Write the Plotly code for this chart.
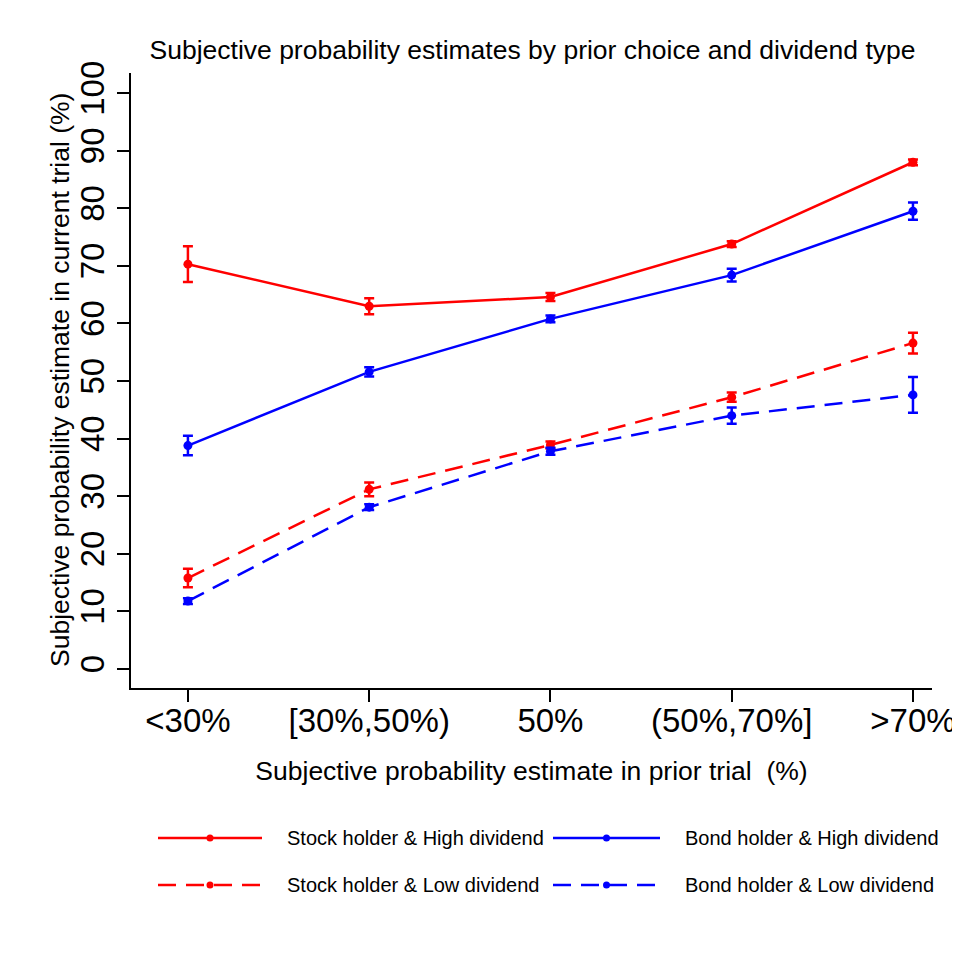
import plotly.graph_objects as go

categories = ["<30%", "[30%,50%)", "50%", "(50%,70%]", ">70%"]

series_names = [
    "Stock holder & High dividend",
    "Bond holder & High dividend",
    "Stock holder & Low dividend",
    "Bond holder & Low dividend",
]
stock_high = [70.3, 63.0, 64.6, 73.8, 88.0]
stock_high_err = [3.1, 1.4, 0.7, 0.5, 0.5]
bond_high = [38.8, 51.6, 60.8, 68.4, 79.5]
bond_high_err = [1.7, 0.8, 0.6, 1.1, 1.5]
stock_low = [15.8, 31.2, 38.9, 47.2, 56.6]
stock_low_err = [1.6, 1.2, 0.6, 0.8, 1.8]
bond_low = [11.8, 28.1, 37.8, 44.0, 47.6]
bond_low_err = [0.5, 0.5, 0.6, 1.4, 3.1]

y_ticks = [0, 10, 20, 30, 40, 50, 60, 70, 80, 90, 100]

x_title = "Subjective probability estimate in prior trial  (%)"
y_title = "Subjective probability estimate in current trial (%)"
main_title = "Subjective probability estimates by prior choice and dividend type"

series_values = [stock_high, bond_high, stock_low, bond_low]
series_errors = [stock_high_err, bond_high_err, stock_low_err, bond_low_err]
series_colors = ["#ff0000", "#0000ff", "#ff0000", "#0000ff"]
series_dash = ["solid", "solid", "18px,10px", "18px,10px"]

FONT = "Liberation Sans, Arial, sans-serif"
FW, FH = 952, 952
OFF = 8  # page body offset

fig = go.Figure()
for name, vals, errs, col, dash in zip(series_names, series_values, series_errors, series_colors, series_dash):
    fig.add_trace(go.Scatter(
        x=categories, y=vals, name=name, mode="lines+markers",
        line=dict(color=col, width=2.5, dash=dash),
        marker=dict(color=col, size=9, symbol="circle"),
        error_y=dict(type="data", array=errs, visible=True, color=col, thickness=2.5, width=5),
        showlegend=False,
    ))

# custom legend (long key lines like the reference)
W, H = 801.0, 615.0
def px_x(p):
    return (p - 131) / W
def px_y(p):
    return (688 - p) / H

legend_pos = [(158, 262, 838), (553, 660, 838), (158, 262, 885), (553, 660, 885)]
shapes = []
annotations = []
for name, col, dash, (x0, x1, yy) in zip(series_names, series_colors, series_dash, legend_pos):
    shapes.append(dict(type="line", xref="paper", yref="paper",
                       x0=px_x(x0), x1=px_x(x1), y0=px_y(yy), y1=px_y(yy),
                       line=dict(color=col, width=2.5, dash=dash)))
    xm = px_x((x0 + x1) / 2)
    shapes.append(dict(type="circle", xref="paper", yref="paper",
                       xsizemode="pixel", ysizemode="pixel",
                       xanchor=xm, yanchor=px_y(yy),
                       x0=-3.5, x1=3.5, y0=-3.5, y1=3.5,
                       fillcolor=col, line=dict(color=col, width=0)))
    annotations.append(dict(xref="paper", yref="paper", x=px_x(x1 + 23), y=px_y(yy),
                            text=name, showarrow=False, xanchor="left", yanchor="middle",
                            font=dict(family=FONT, size=20, color="#000000")))

# y-axis title as rotated annotation for exact placement
annotations.append(dict(xref="paper", yref="paper", x=px_x(60), y=px_y(380),
                        text=y_title, showarrow=False, textangle=-90,
                        xanchor="center", yanchor="middle",
                        font=dict(family=FONT, size=26.5, color="#000000")))

fig.update_layout(
    width=FW, height=FH,
    paper_bgcolor="white", plot_bgcolor="white",
    margin=dict(l=131 - OFF, r=FW - (932 - OFF), t=73 - OFF, b=FH - (688 - OFF), autoexpand=False),
    title=dict(text=main_title,
               x=((148 + 917) / 2 - OFF) / FW, xanchor="center",
               y=1 - (50 - OFF) / FH, yanchor="middle",
               font=dict(family=FONT, size=26.5, color="#000000")),
    xaxis=dict(
        range=[-0.314, 4.105], showgrid=False, zeroline=False, automargin=False,
        showline=True, linecolor="#000000", linewidth=1.5,
        ticks="outside", ticklen=12, tickwidth=1.5, tickcolor="#000000",
        ticklabelstandoff=-9,
        tickfont=dict(family=FONT, size=33, color="#000000"),
        title=dict(text=x_title,
                   font=dict(family=FONT, size=26.5, color="#000000"), standoff=23),
    ),
    yaxis=dict(
        range=[-3.3, 103.5], showgrid=False, zeroline=False, automargin=False,
        showline=True, linecolor="#000000", linewidth=1.5,
        ticks="outside", ticklen=12, tickwidth=1.5, tickcolor="#000000",
        tickvals=y_ticks, ticktext=[str(v) for v in y_ticks], tickangle=-90,
        tickfont=dict(family=FONT, size=33, color="#000000"),
    ),
    shapes=shapes,
    annotations=annotations,
    showlegend=False,
)

fig.write_html("out.html")
